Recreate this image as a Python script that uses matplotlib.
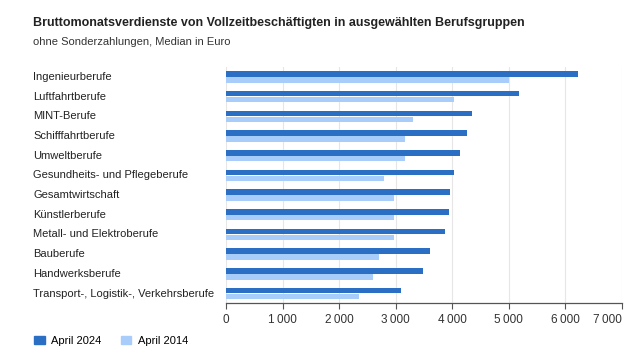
import matplotlib.pyplot as plt
from matplotlib.patches import Patch
from matplotlib.ticker import FuncFormatter

plt.rcParams['font.family'] = ['Liberation Sans', 'DejaVu Sans']

# Berufsgruppen (von oben nach unten)
berufe = [
    "Ingenieurberufe",
    "Luftfahrtberufe",
    "MINT-Berufe",
    "Schifffahrtberufe",
    "Umweltberufe",
    "Gesundheits- und Pflegeberufe",
    "Gesamtwirtschaft",
    "Künstlerberufe",
    "Metall- und Elektroberufe",
    "Bauberufe",
    "Handwerksberufe",
    "Transport-, Logistik-, Verkehrsberufe",
]
april_2024 = [6225, 5186, 4348, 4260, 4142, 4029, 3965, 3953, 3882, 3611, 3493, 3097]
april_2014 = [5003, 4041, 3304, 3174, 3174, 2802, 2968, 2979, 2979, 2702, 2596, 2360]
x_ticks = [0, 1000, 2000, 3000, 4000, 5000, 6000, 7000]

dunkel = "#2a6fc4"
hell = "#a9cdfb"

fig = plt.figure(figsize=(6.37, 3.59), dpi=100)
ax = fig.add_axes([0.3548, 0.155, 0.6212, 0.658])

y = list(range(len(berufe)))
h = 0.28
ax.barh([i - 0.15 for i in y], april_2024, height=h, color=dunkel, zorder=3)
ax.barh([i + 0.15 for i in y], april_2014, height=h, color=hell, zorder=3)

ax.set_ylim(len(berufe) - 0.5, -0.5)
ax.set_xlim(0, 7000)
ax.set_xticks(x_ticks)
ax.xaxis.set_major_formatter(FuncFormatter(lambda v, p: f"{int(v):,}".replace(",", "\u2009") if v else "0"))
ax.grid(axis='x', color="#e6e6e6", linewidth=0.8, zorder=0)

# Kategorien linksbündig
ax.set_yticks([])
for i, name in enumerate(berufe):
    ax.text(-0.4877, i, name, transform=ax.get_yaxis_transform(),
            ha='left', va='center', fontsize=8, color="#222222")

ax.tick_params(axis='x', length=4, color="#555555", labelsize=8.5, labelcolor="#333333", pad=4)
ax.get_xticklabels()[-1].set_horizontalalignment('right')

for s in ['top', 'right', 'left']:
    ax.spines[s].set_visible(False)
ax.spines['bottom'].set_color("#555555")
ax.spines['bottom'].set_linewidth(0.9)

fig.text(33 / 637, 1 - 23.3 / 359, "Bruttomonatsverdienste von Vollzeitbeschäftigten in ausgewählten Berufsgruppen",
         fontsize=9, fontweight='bold', color="#222222", va='center')
fig.text(33 / 637, 1 - 42.3 / 359, "ohne Sonderzahlungen, Median in Euro",
         fontsize=8, color="#333333", va='center')

handles = [Patch(color=dunkel, label="April 2024"), Patch(color=hell, label="April 2014")]
fig.legend(handles=handles, loc='center left', bbox_to_anchor=(24 / 637, 1 - 340.7 / 359),
           ncol=2, frameon=False, fontsize=8, handlelength=0.95, handleheight=0.85,
           handletextpad=0.55, columnspacing=1.8)

plt.savefig("out.png", dpi=100)
plt.close()
